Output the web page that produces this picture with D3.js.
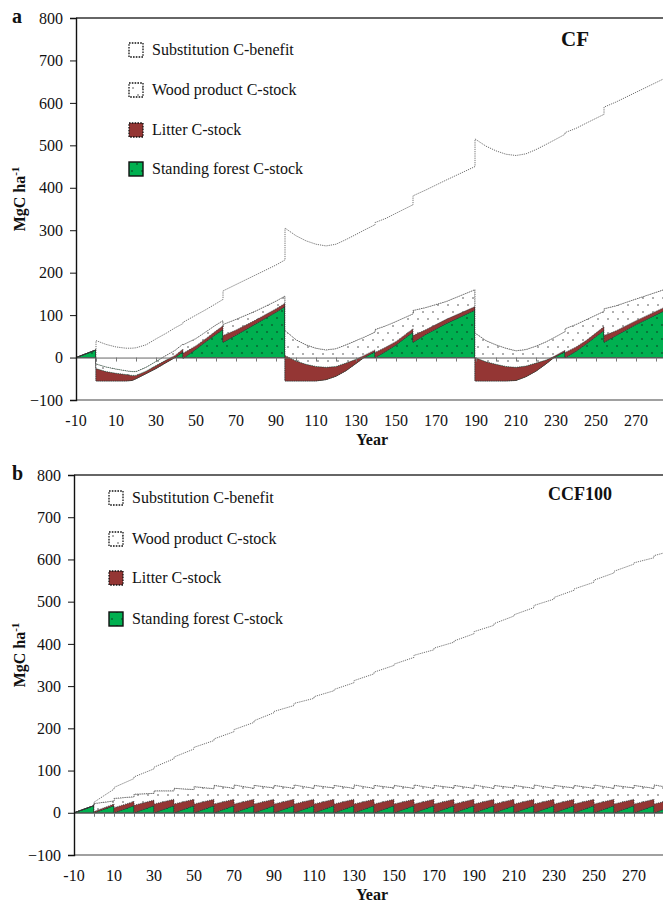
<!DOCTYPE html>
<html>
<head>
<meta charset="utf-8">
<script src="https://cdn.jsdelivr.net/npm/d3@7"></script>
<style>
  body { margin: 0; background: #fff; }
  text { font-family: "Liberation Serif", "Times New Roman", serif; fill: #111; }
</style>
</head>
<body>
<svg id="chart" width="663" height="902"></svg>
<script>
// ---- panel a (CF): components at each sampled year (duplicate years = harvest / thinning drops)
var yearA   = [-10, 0, 0, 5, 10, 15, 18, 20, 25, 30, 35, 39.5, 43.5, 43.5, 50, 55, 60, 63.5, 63.5, 70, 80, 90, 94.5, 94.5,
               100, 105, 110, 115, 120, 125, 130, 134, 139.5, 139.5, 145, 150, 158.5, 158.5, 165, 175, 189.5, 189.5,
               195, 200, 205, 210, 215, 220, 225, 229, 234.5, 234.5, 240, 245, 254, 254, 260, 270, 284];
var forestA = [0, 18, -55, -55, -55, -55, -54, -50, -38, -26, -12, 0, 14, -2, 20, 38, 55, 66, 36, 53, 80, 107, 120, -55,
               -55, -55, -55, -52, -44, -31, -14, 0, 14, 0, 15, 30, 60, 36, 55, 80, 112, -55,
               -55, -55, -55, -54, -45, -32, -15, 0, 14, 0, 15, 32, 64, 36, 52, 78, 110];
var litterA = [0, 0, 29, 22, 18, 15, 12, 8, 6, 7, 6, 5, 6, 12, 8, 7, 8, 9, 16, 12, 9, 8, 8, 60,
               47, 39, 34, 29, 23, 18, 10, 5, 4, 12, 10, 8, 8, 16, 11, 10, 8, 55,
               45, 39, 34, 31, 25, 19, 9, 3, 3, 12, 10, 8, 9, 16, 11, 9, 8];
var woodA   = [0, 0, 11, 11, 10, 9, 9, 9, 9, 10, 11, 12, 12, 20, 17, 16, 14, 12, 26, 25, 21, 18, 17, 59,
               50, 46, 43, 41, 42, 43, 44, 43, 42, 54, 50, 47, 35, 59, 52, 42, 40, 58,
               50, 46, 43, 39, 39, 40, 43, 44, 44, 56, 53, 49, 36, 63, 59, 51, 42];
var substA  = [0, 0, 55, 53, 52, 53, 55, 56, 53, 53, 52, 53, 48, 53, 55, 52, 50, 50, 79, 82, 85, 85, 85, 241,
               245, 245, 245, 245, 246, 248, 250, 252, 253, 252, 253, 255, 257, 270, 277, 286, 290, 457,
               458, 457, 457, 460, 461, 463, 465, 465, 465, 462, 462, 463, 464, 475, 480, 487, 497];

// ---- panel b (CCF100): one row per 10-year cutting period, value at period start (0) and just before next cut (1)
var periodB  = [-10, 0, 10, 20, 30, 40, 50, 60, 70, 80, 90, 100, 110, 120, 130, 140, 150, 160, 170, 180, 190,
                200, 210, 220, 230, 240, 250, 260, 270, 280];
var forestB0 = [0, 0, 0, 0, 0, 0, 0, 0, 0, 0, 0, 0, 0, 0, 0, 0, 0, 0, 0, 0, 0, 0, 0, 0, 0, 0, 0, 0, 0, 0];
var forestB1 = [17, 17, 17, 17, 17, 17, 17, 17, 17, 17, 17, 17, 17, 17, 17, 17, 17, 17, 17, 17, 17, 17, 17, 17, 17, 17, 17, 17, 17, 17];
var litterB0 = [0, 3, 12, 18, 21, 21, 21, 21, 21, 21, 21, 21, 21, 21, 21, 21, 21, 21, 21, 21, 21, 21, 21, 21, 21, 21, 21, 21, 21, 21];
var litterB1 = [0, 4, 10, 13, 15, 15, 15, 15, 15, 15, 15, 15, 15, 15, 15, 15, 15, 15, 15, 15, 15, 15, 15, 15, 15, 15, 15, 15, 15, 15];
var woodB0   = [0, 19, 22, 26, 31, 37, 41, 44, 45, 44, 44, 45, 44, 44, 45, 44, 44, 45, 44, 44, 45, 44, 44, 45, 44, 44, 45, 44, 44, 45];
var woodB1   = [0, 7, 11, 16, 20, 23, 25, 26, 26, 27, 26, 26, 27, 26, 26, 27, 26, 26, 27, 26, 26, 27, 26, 26, 27, 26, 26, 27, 26, 26];
var substB0  = [0, 3, 26, 41, 56, 74, 93, 110, 131, 153, 175, 193, 210, 227, 247, 268, 287, 307, 325, 342, 363,
                383, 404, 425, 445, 465, 485, 507, 527, 543];
var substB1  = [0, 28, 43, 58, 76, 96, 114, 134, 156, 178, 196, 213, 230, 250, 271, 290, 310, 328, 345, 366, 386,
                407, 428, 448, 468, 488, 510, 530, 546, 564];

var yTicks = [-100, 0, 100, 200, 300, 400, 500, 600, 700, 800];
var xLabels = [-10, 10, 30, 50, 70, 90, 110, 130, 150, 170, 190, 210, 230, 250, 270];

var legendNames = ["Substitution C-benefit", "Wood product C-stock", "Litter C-stock", "Standing forest C-stock"];
var keys = ["forest", "litter", "wood", "subst"];

var svg = d3.select("#chart");
var defs = svg.append("defs");

// dotted fills
var pg = defs.append("pattern").attr("id", "greenDots").attr("patternUnits", "userSpaceOnUse")
  .attr("width", 10).attr("height", 14);
pg.append("rect").attr("width", 10).attr("height", 14).attr("fill", "#00b050");
pg.append("circle").attr("cx", 2).attr("cy", 3).attr("r", 0.7).attr("fill", "#111");
pg.append("circle").attr("cx", 7).attr("cy", 10).attr("r", 0.7).attr("fill", "#111");

var pw = defs.append("pattern").attr("id", "woodDots").attr("patternUnits", "userSpaceOnUse")
  .attr("width", 10).attr("height", 14);
pw.append("rect").attr("width", 10).attr("height", 14).attr("fill", "#fff");
pw.append("circle").attr("cx", 3).attr("cy", 4).attr("r", 0.7).attr("fill", "#222");
pw.append("circle").attr("cx", 8).attr("cy", 11).attr("r", 0.7).attr("fill", "#222");

var fills = { forest: "url(#greenDots)", litter: "#943634", wood: "url(#woodDots)", subst: "#fff" };

function drawPanel(p) {
  var x = d3.scaleLinear().domain(p.xDomain).range([p.left, 663]);
  var y = d3.scaleLinear().domain([-100, 800]).range([p.bottom, p.top]);
  var g = svg.append("g");

  var clipId = "clip" + p.letter;
  defs.append("clipPath").attr("id", clipId).append("rect")
    .attr("x", p.left).attr("y", p.top).attr("width", 663 - p.left).attr("height", p.bottom - p.top);

  var series = d3.stack().keys(keys).offset(d3.stackOffsetNone)(p.rows);
  var area = d3.area()
    .x(function(d) { return x(d.data.year); })
    .y0(function(d) { return y(d[0]); })
    .y1(function(d) { return y(d[1]); });

  var plot = g.append("g").attr("clip-path", "url(#" + clipId + ")");
  series.forEach(function(s) {
    plot.append("path")
      .attr("d", area(s))
      .attr("fill", fills[s.key])
      .attr("stroke", s.key == "forest" ? "#1a1a1a" : "#333")
      .attr("stroke-width", 0.7)
      .attr("stroke-dasharray", s.key == "forest" ? null : "1.2,1");
  });

  // zero line with small ticks
  g.append("g")
    .attr("transform", "translate(0," + y(0) + ")")
    .call(d3.axisBottom(x).tickValues(p.zeroTicks).tickSize(4).tickFormat(""))
    .call(function(a) {
      a.select(".domain").attr("stroke", "#666").attr("stroke-width", 1);
      a.selectAll(".tick line").attr("stroke", "#777");
    });

  // frame lines
  g.append("line").attr("x1", p.left).attr("x2", 663).attr("y1", y(800)).attr("y2", y(800))
    .attr("stroke", "#333").attr("stroke-width", 1.3);
  g.append("line").attr("x1", p.left).attr("x2", 663).attr("y1", y(-100)).attr("y2", y(-100))
    .attr("stroke", "#a0a0a0").attr("stroke-width", 2);

  g.append("g")
    .attr("transform", "translate(" + p.left + ",0)")
    .call(d3.axisLeft(y).tickValues(yTicks).tickSize(6).tickPadding(7).tickFormat(d3.format("d")))
    .call(function(a) {
      a.select(".domain").attr("stroke", "#111").attr("stroke-width", 1.4);
      a.selectAll(".tick line").attr("stroke", "#111");
      a.selectAll("text").attr("font-size", 16).attr("font-family", null).attr("fill", "#111");
    });

  g.selectAll(".xlab").data(xLabels).enter().append("text")
    .attr("x", function(d) { return x(d); })
    .attr("y", y(-100) + 26)
    .attr("text-anchor", "middle")
    .attr("font-size", 16)
    .text(function(d) { return d; });

  g.append("text").attr("x", 372).attr("y", y(-100) + 45)
    .attr("text-anchor", "middle").attr("font-size", 16).attr("font-weight", "bold").text("Year");

  var yt = g.append("text")
    .attr("transform", "translate(25," + p.yTitleMid + ") rotate(-90)")
    .attr("text-anchor", "middle").attr("font-size", 16).attr("font-weight", "bold");
  yt.append("tspan").text("MgC ha");
  yt.append("tspan").attr("dy", -6).attr("font-size", 11).text("-1");

  g.append("text").attr("x", 12).attr("y", p.top + 5)
    .attr("font-size", 20).attr("font-weight", "bold").text(p.letter);

  g.append("text").attr("x", p.titleX).attr("y", p.titleY)
    .attr("text-anchor", "middle").attr("font-size", p.titleSize).attr("font-weight", "bold").text(p.title);

  // legend
  var order = ["subst", "wood", "litter", "forest"];
  order.forEach(function(k, i) {
    var cy = p.legendRows[i];
    g.append("rect")
      .attr("x", p.legendX).attr("y", cy - 7).attr("width", 14).attr("height", 14)
      .attr("fill", fills[k])
      .attr("stroke", "#111")
      .attr("stroke-width", k == "forest" ? 1.4 : 1.3)
      .attr("stroke-dasharray", k == "forest" ? null : "1.6,1.2");
    g.append("text")
      .attr("x", p.legendX + 23).attr("y", cy + 5)
      .attr("font-size", 16)
      .text(legendNames[i]);
  });
}

var rowsA = yearA.map(function(yr, i) {
  return { year: yr, forest: forestA[i], litter: litterA[i], wood: woodA[i], subst: substA[i] };
});

var rowsB = [];
periodB.forEach(function(t, k) {
  rowsB.push({ year: t, forest: forestB0[k], litter: litterB0[k], wood: woodB0[k], subst: substB0[k] });
  rowsB.push({ year: t + 10, forest: forestB1[k], litter: litterB1[k], wood: woodB1[k], subst: substB1[k] });
});

drawPanel({
  letter: "a", title: "CF", titleX: 575, titleY: 46, titleSize: 21,
  rows: rowsA, xDomain: [-10, 283.5], left: 76, top: 18, bottom: 400,
  zeroTicks: d3.range(0, 290, 10), yTitleMid: 199,
  legendX: 129, legendRows: [50, 90, 130, 169]
});

drawPanel({
  letter: "b", title: "CCF100", titleX: 580, titleY: 500, titleSize: 18,
  rows: rowsB, xDomain: [-10, 284.5], left: 74, top: 475, bottom: 855,
  zeroTicks: d3.range(0, 290, 5), yTitleMid: 655,
  legendX: 109, legendRows: [498, 539, 578, 619]
});
</script>
</body>
</html>
